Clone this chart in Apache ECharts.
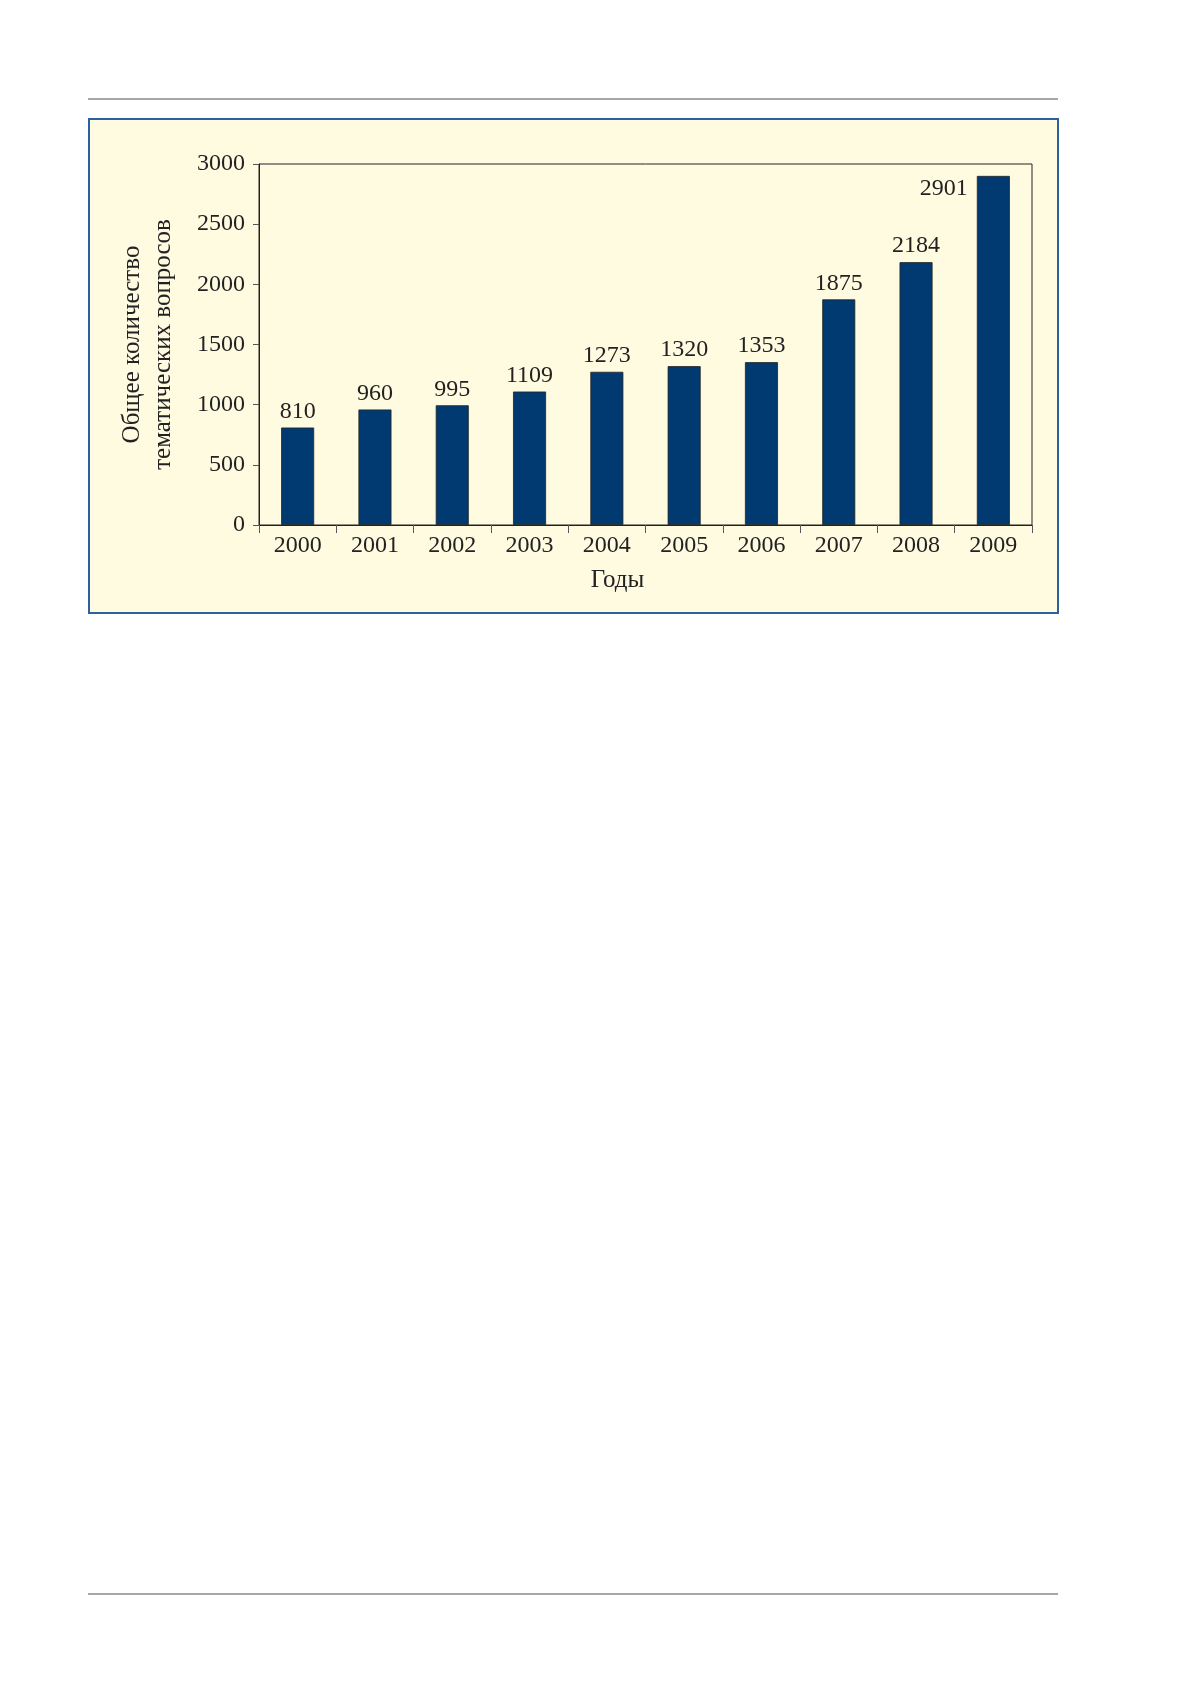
<!DOCTYPE html>
<html>
<head>
<meta charset="utf-8">
<script src="https://cdn.jsdelivr.net/npm/echarts@6/dist/echarts.min.js"></script>
<style>
html,body{margin:0;padding:0;background:#fff;}
#chart{width:1179px;height:1681px;}
</style>
</head>
<body>
<div id="chart"></div>
<script>
var years = ['2000','2001','2002','2003','2004','2005','2006','2007','2008','2009'];
var questions = [810, 960, 995, 1109, 1273, 1320, 1353, 1875, 2184, 2901];
var yTicks = [0, 500, 1000, 1500, 2000, 2500, 3000];
var yAxisTitle = 'Общее количество\nтематических вопросов';
var xAxisTitle = 'Годы';

var serif = '"Liberation Serif", "Times New Roman", serif';
var chart = echarts.init(document.getElementById('chart'), null, {renderer: 'canvas'});

var barData = questions.map(function (v, i) {
  var item = {value: v};
  if (i === questions.length - 1) {
    item.label = {position: [-9, 13], align: 'right', verticalAlign: 'middle'};
  }
  return item;
});

chart.setOption({
  animation: false,
  backgroundColor: '#ffffff',
  graphic: [
    {type: 'line', shape: {x1: 88, y1: 99, x2: 1058, y2: 99}, style: {stroke: '#8a8a8a', lineWidth: 1.5}, z: -1},
    {type: 'line', shape: {x1: 88, y1: 1594, x2: 1058, y2: 1594}, style: {stroke: '#8a8a8a', lineWidth: 1.5}, z: -1},
    {type: 'rect', shape: {x: 89, y: 119, width: 969, height: 494}, style: {fill: '#fffbe1', stroke: '#2a62a0', lineWidth: 2}, z: -1, silent: true}
  ],
  grid: {
    left: 259, top: 164, right: 147, bottom: 1156,
    show: true, borderColor: '#222', borderWidth: 1, backgroundColor: 'transparent'
  },
  xAxis: {
    type: 'category',
    data: years,
    boundaryGap: true,
    name: xAxisTitle,
    nameLocation: 'middle',
    nameGap: 43,
    nameTextStyle: {fontFamily: serif, fontSize: 25, color: '#222', padding: [0, 56, 0, 0]},
    axisLine: {lineStyle: {color: '#222', width: 1}},
    axisTick: {show: true, length: 8, alignWithLabel: false, lineStyle: {color: '#555'}},
    axisLabel: {fontFamily: serif, fontSize: 24, color: '#222', margin: 9, interval: 0}
  },
  yAxis: {
    type: 'value',
    min: yTicks[0],
    max: yTicks[yTicks.length - 1],
    interval: yTicks[1] - yTicks[0],
    name: yAxisTitle,
    nameLocation: 'middle',
    nameRotate: 90,
    nameGap: 80,
    nameTextStyle: {fontFamily: serif, fontSize: 25, color: '#222', lineHeight: 31, align: 'center'},
    splitLine: {show: false},
    axisLine: {show: true, lineStyle: {color: '#222', width: 1}},
    axisTick: {show: true, length: 6, lineStyle: {color: '#555'}},
    axisLabel: {fontFamily: serif, fontSize: 24, color: '#222', margin: 14, formatter: function (v) { return String(v); }}
  },
  series: [{
    type: 'bar',
    data: barData,
    barWidth: 33,
    itemStyle: {color: '#003a70', borderColor: '#222', borderWidth: 0.8},
    label: {
      show: true,
      position: 'top',
      distance: 4,
      fontFamily: serif,
      fontSize: 24,
      color: '#222'
    }
  }]
});
</script>
</body>
</html>
